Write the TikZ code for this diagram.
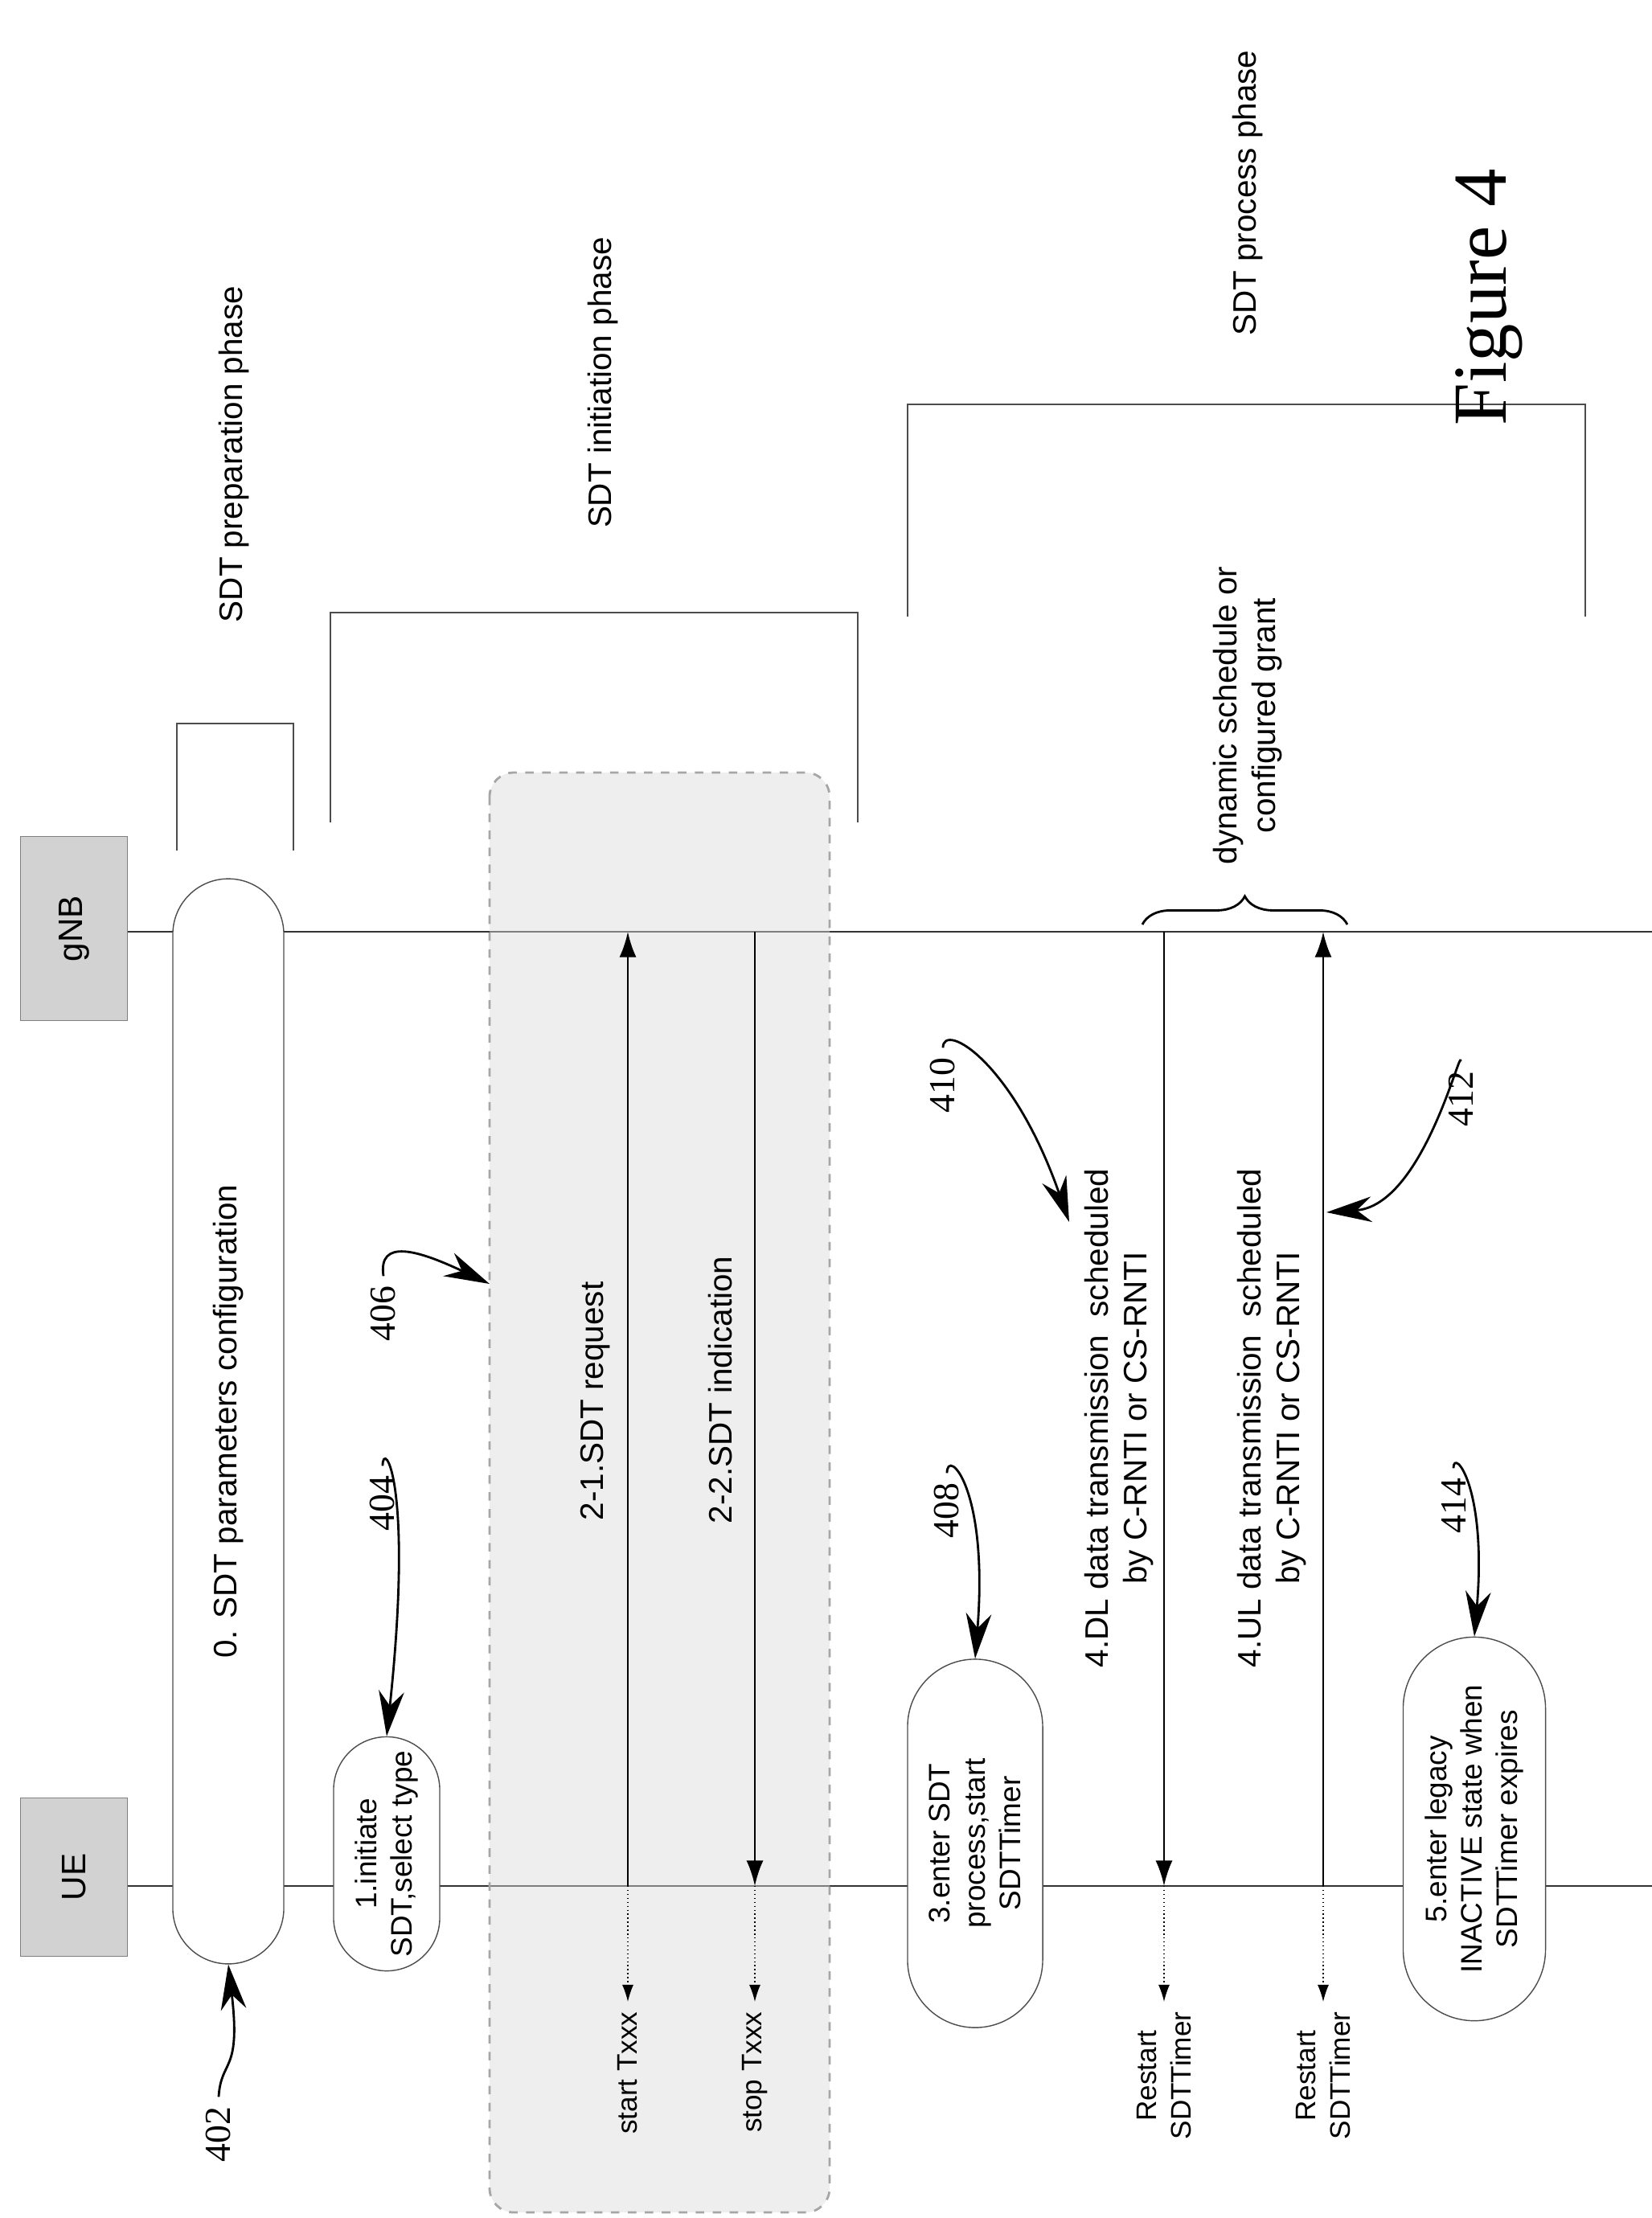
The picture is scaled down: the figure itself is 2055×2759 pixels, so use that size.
\documentclass[tikz,border=0pt]{standalone}
\usepackage{fontspec}
\setmainfont{Liberation Sans}
\newfontfamily\serif{Liberation Serif}
\usetikzlibrary{shapes.misc,arrows.meta,decorations.pathreplacing}

\tikzset{
    lbl/.style={rotate=90, font=\fontsize{11.5}{13.5}\selectfont, align=center},
    num/.style={rotate=90, font=\serif\fontsize{13}{15}\selectfont},
    stepbox/.style={rotate=90, draw=black!70, fill=white, rounded rectangle, inner sep=0pt,
        font=\fontsize{10.5}{12.5}\selectfont, align=center},
    ent/.style={rotate=90, draw=gray, fill=gray!35, inner sep=0pt,
        font=\fontsize{12}{14}\selectfont},
    msg/.style={thick, -{Latex[length=9pt,width=6pt]}},
    tmr/.style={densely dotted, -{Latex[length=6pt,width=4pt]}},
    ref/.style={thick, -{Stealth[length=16pt,width=9pt]}},
    brk/.style={thick, black!70},
}

\begin{document}
\begin{tikzpicture}[x=0.01cm, y=-0.01cm]
        \useasboundingbox (0,0) rectangle (2055,2759);
        % entities and lifelines
        \node[ent, minimum width=1.97cm, minimum height=1.33cm] (ue) at (92,2335) {UE};
        \node[ent, minimum width=2.29cm, minimum height=1.33cm] (gnb) at (92,1155) {gNB};
        \coordinate (ueend) at (2055,2346);
        \coordinate (gnbend) at (2055,1159);
        \draw [thick, black!80] (ue.south |- ueend) -- (ueend);
        \draw [thick, black!80] (gnb.south |- gnbend) -- (gnbend);
        % phase brackets
        \draw [brk] (220,1058) -- (220,900) -- (365,900) -- (365,1058);
        \node[lbl] (prep) at (291,565) {SDT preparation phase};
        \draw [brk] (411,1023) -- (411,762) -- (1067,762) -- (1067,1023);
        \node[lbl] (init) at (750,476) {SDT initiation phase};
        \draw [brk] (1129,767) -- (1129,503) -- (1972,503) -- (1972,767);
        \node[lbl] (proc) at (1552,240) {SDT process phase};
        \node[rotate=90, font=\serif\fontsize{27}{30}\selectfont] (fig) at (1852,370) {Figure 4};
        % step 0
        \node[stepbox, minimum width=13.49cm, minimum height=1.38cm,
            font=\fontsize{11.5}{13.5}\selectfont] (s0) at (284,1768) {0. SDT parameters configuration};
        % step 1
        \node[stepbox, minimum width=2.91cm, minimum height=1.32cm] (s1) at (481,2306) {1.initiate\\SDT,select type};
        % step 2
        \draw [gray!70, dashed, thick, fill=gray!30, fill opacity=0.45, rounded corners=0.3cm]
            (609,961) rectangle (1032,2752);
        \coordinate (reqa) at (781,2346);
        \coordinate (reqb) at (781,1159);
        \draw [msg] (reqa) -- (reqb);
        \node[lbl] (req) at (741,1743) {2-1.SDT request};
        \coordinate (inda) at (939,1159);
        \coordinate (indb) at (939,2346);
        \draw [msg] (inda) -- (indb);
        \node[lbl] (ind) at (896,1729) {2-2.SDT indication};
        \node[lbl, anchor=east, font=\fontsize{10}{12}\selectfont] (start) at (781,2490) {start Txxx};
        \node[lbl, anchor=east, font=\fontsize{10}{12}\selectfont] (stop) at (939,2490) {stop Txxx};
        \draw [tmr] (reqa) -- (start.east);
        \draw [tmr] (indb) -- (stop.east);
        % step 3
        \node[stepbox, minimum width=4.58cm, minimum height=1.68cm] (s3) at (1213,2293) {3.enter SDT\\process,start\\SDTTimer};
        % step 4
        \coordinate (dla) at (1448,1159);
        \coordinate (dlb) at (1448,2346);
        \draw [msg] (dla) -- (dlb);
        \node[lbl] (dl) at (1392,1764) {4.DL data transmission \ scheduled\\by C-RNTI or CS-RNTI};
        \coordinate (ula) at (1646,2346);
        \coordinate (ulb) at (1646,1159);
        \draw [msg] (ula) -- (ulb);
        \node[lbl] (ul) at (1582,1764) {4.UL data transmission \ scheduled\\by C-RNTI or CS-RNTI};
        \node[lbl, anchor=east, font=\fontsize{10}{12}\selectfont] (rs1) at (1448,2490) {Restart\\SDTTimer};
        \node[lbl, anchor=east, font=\fontsize{10}{12}\selectfont] (rs2) at (1646,2490) {Restart\\SDTTimer};
        \draw [tmr] (dlb) -- (rs1.east);
        \draw [tmr] (ula) -- (rs2.east);
        \draw [thick, decorate, decoration={brace, amplitude=10pt}] (1421,1150) -- (1676,1150);
        \node[lbl] (grant) at (1552,890) {dynamic schedule or\\configured grant};
        % step 5
        \node[stepbox, minimum width=4.77cm, minimum height=1.77cm] (s5) at (1834,2275) {5.enter legacy\\INACTIVE state when\\SDTTimer expires};
        % reference numerals
        \node[num] (n402) at (272,2655) {402};
        \draw [ref] (n402.east) .. controls (275,2560) and (300,2580) .. (s0.west);
        \node[num] (n404) at (476,1870) {404};
        \draw [ref] (n404.east) .. controls (476,1790) and (515,1840) .. (s1.east);
        \node[num] (n406) at (477,1634) {406};
        \draw [ref] (n406.east) .. controls (470,1540) and (520,1555) .. (609,1597);
        \node[num] (n408) at (1178,1879) {408};
        \draw [ref] (n408.east) .. controls (1178,1800) and (1230,1850) .. (s3.east);
        \node[num] (n410) at (1173,1350) {410};
        \draw [ref] (n410.east) .. controls (1173,1270) and (1260,1320) .. (1330,1520);
        \node[num] (n412) at (1817,1367) {412};
        \draw [ref] (n412.east) .. controls (1817,1300) and (1770,1500) .. (1650,1508);
        \node[num] (n414) at (1808,1873) {414};
        \draw [ref] (n414.east) .. controls (1808,1800) and (1850,1850) .. (s5.east);
\end{tikzpicture}
\end{document}
